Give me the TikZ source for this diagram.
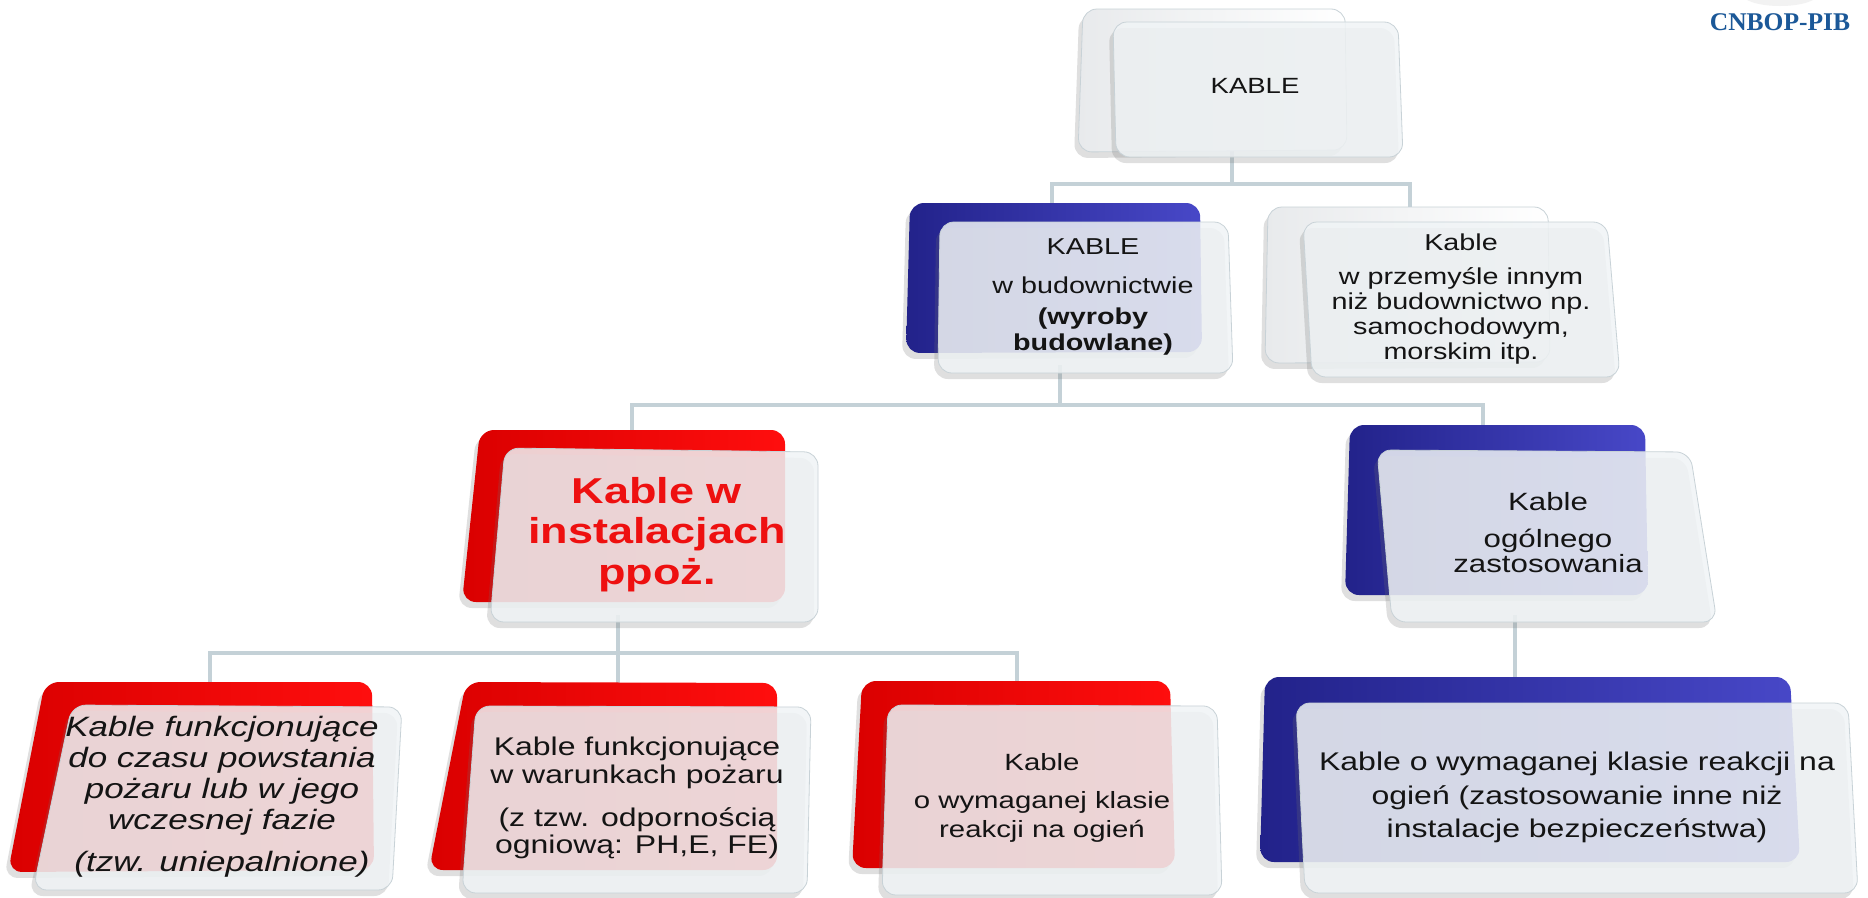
\documentclass[tikz,border=0pt]{standalone}
\usepackage{fontspec}
\setmainfont{Liberation Sans}[FakeStretch=1.25]
\newfontfamily\logofont{Liberation Serif}
\definecolor{lineC}{RGB}{196,209,215}
\definecolor{redL}{RGB}{255,14,14}
\definecolor{redD}{RGB}{218,0,0}
\definecolor{bluL}{RGB}{72,72,200}
\definecolor{bluD}{RGB}{34,34,138}
\definecolor{frontC}{RGB}{240,244,246}
\definecolor{frontE}{RGB}{200,210,215}
\definecolor{whiteD}{RGB}{232,234,236}
\definecolor{txtC}{RGB}{20,20,20}
\definecolor{redT}{RGB}{238,16,16}
\definecolor{logoC}{RGB}{27,88,152}
\definecolor{shadowC}{RGB}{110,110,110}
\newcommand\fs[2]{\fontsize{#1pt}{#2pt}\selectfont}
\newcommand\myquad[5]{\path[#1] (#2) -- (#3) -- (#4) -- (#5) -- cycle;}
\newcommand\myshadow[4]{\path[shadowshape] (#1) -- (#2) -- (#3) -- (#4) -- cycle;}
\tikzset{
 conn/.style={draw=lineC, line width=4pt},
 shp/.style={rounded corners=14pt},
 shadowshape/.style={shp, fill=shadowC, fill opacity=0.22, shift={(-4,6)}},
 redback/.style={shp, left color=redD, right color=redL},
 blueback/.style={shp, left color=bluD, right color=bluL},
 whiteback/.style={shp, left color=whiteD, right color=white, draw=frontE, line width=0.8pt},
 frontbox/.style={shp, fill=frontC, fill opacity=0.85, draw=frontE, draw opacity=1, line width=0.8pt},
 txt/.style={align=center, inner sep=0pt, text=txtC},
}
\begin{document}
\begin{tikzpicture}[x=1pt,y=-1pt]
\useasboundingbox (0,0) rectangle (1868,897);
\fill[white] (0,0) rectangle (1868,897);
% faint logo piece
\fill[gray!10] (1780,-6) ellipse (38 and 12);
\node[font=\logofont\bfseries\fs{25.5}{26}, text=logoC, inner sep=0pt] (logo) at (1780,22) {CNBOP-PIB};

% connector coordinates
\coordinate (Tb) at (1232,150);
\coordinate (bus1) at (1232,184);
\coordinate (Bt) at (1052,210);
\coordinate (Pt) at (1410,215);
\coordinate (Bb) at (1060,365);
\coordinate (bus2) at (0,405);
\coordinate (Rt) at (632,440);
\coordinate (Gt) at (1483,435);
\coordinate (Rb) at (618,615);
\coordinate (bus3) at (0,653);
\coordinate (L1t) at (210,690);
\coordinate (L2t) at (618,690);
\coordinate (L3t) at (1017,690);
\coordinate (Gb) at (1515,615);
\coordinate (L4t) at (1515,690);

\draw[conn] (Tb) -- (bus1);
\draw[conn] (Bt) |- (Pt |- bus1) -- (Pt);
\draw[conn] (Bb) -- (Bb |- bus2);
\draw[conn] (Rt) |- (Gt |- bus2) -- (Gt);
\draw[conn] (Rb) -- (L2t);
\draw[conn] (L1t) |- (L3t |- bus3) -- (L3t);
\draw[conn] (Gb) -- (L4t);

% ---- top KABLE
\myshadow{1083,9}{1345,9}{1347,150}{1078,152}
\myquad{whiteback}{1083,9}{1345,9}{1347,150}{1078,152}
\myshadow{1113,22}{1398,22}{1403,157}{1116,157}
\myquad{frontbox}{1113,22}{1398,22}{1403,157}{1116,157}
\node[txt, font=\fs{22}{22}] (T) at (1255,86) {KABLE};

% ---- budownictwie
\myshadow{910,203}{1200,203}{1202,352}{906,353}
\myquad{blueback}{910,203}{1200,203}{1202,352}{906,353}
\myshadow{940,222}{1228,222}{1233,373}{938,373}
\myquad{frontbox}{940,222}{1228,222}{1233,373}{938,373}
\node[txt, font=\fs{23}{26}, anchor=north] (B) at (1093,238)
 {KABLE\\[13pt] w budownictwie\\[5pt] \textbf{(wyroby}\\ \textbf{budowlane)}};

% ---- przemysle
\myshadow{1268,207}{1548,207}{1550,362}{1265,363}
\myquad{whiteback}{1268,207}{1548,207}{1550,362}{1265,363}
\myshadow{1303,222}{1607,222}{1620,377}{1312,377}
\myquad{frontbox}{1303,222}{1607,222}{1620,377}{1312,377}
\node[txt, font=\fs{23}{25}, anchor=north] (P) at (1461,234)
 {Kable\\[9pt] w przemyśle innym\\ niż budownictwo np.\\ samochodowym,\\ morskim itp.};

% ---- instalacje ppoz
\myshadow{480,430}{785,430}{785,602}{462,602}
\myquad{redback}{480,430}{785,430}{785,602}{462,602}
\myshadow{505,448}{818,452}{818,622}{490,622}
\myquad{frontbox}{505,448}{818,452}{818,622}{490,622}
\node[txt, text=redT, font=\bfseries\fs{36}{40.5}, anchor=north] (R) at (657,477)
 {Kable w\\ instalacjach\\ ppoż.};

% ---- ogolnego
\myshadow{1350,425}{1645,425}{1648,595}{1345,595}
\myquad{blueback}{1350,425}{1645,425}{1648,595}{1345,595}
\myshadow{1377,450}{1690,452}{1717,622}{1392,622}
\myquad{frontbox}{1377,450}{1690,452}{1717,622}{1392,622}
\node[txt, font=\fs{25}{25}, anchor=north] (G) at (1548,492)
 {Kable\\[12pt] ogólnego\\ zastosowania};

% ---- bottom 1
\myshadow{45,682}{372,682}{374,870}{8,872}
\myquad{redback}{45,682}{372,682}{374,870}{8,872}
\myshadow{72,705}{402,707}{392,890}{33,890}
\myquad{frontbox}{72,705}{402,707}{392,890}{33,890}
\node[txt, font=\itshape\fs{28}{31}, anchor=north] (L1) at (222,716)
 {Kable funkcjonujące\\ do czasu powstania\\ pożaru lub w jego\\ wczesnej fazie\\[10.5pt] (tzw. uniepalnione)};

% ---- bottom 2
\myshadow{466,682}{777,683}{777,870}{429,870}
\myquad{redback}{466,682}{777,683}{777,870}{429,870}
\myshadow{476,706}{811,707}{807,893}{462,893}
\myquad{frontbox}{476,706}{811,707}{807,893}{462,893}
\node[txt, font=\fs{25.6}{27.4}, anchor=north] (L2) at (637,737)
 {Kable funkcjonujące\\ w warunkach pożaru\\[15.5pt] (z tzw. odpornością\\ ogniową: PH,E, FE)};

% ---- bottom 3
\myshadow{862,681}{1170,681}{1175,868}{852,868}
\myquad{redback}{862,681}{1170,681}{1175,868}{852,868}
\myshadow{888,705}{1217,706}{1222,895}{882,895}
\myquad{frontbox}{888,705}{1217,706}{1222,895}{882,895}
\node[txt, font=\fs{23.5}{29.5}, anchor=north] (L3) at (1042,753)
 {Kable\\[8.5pt] o wymaganej klasie\\ reakcji na ogień};

% ---- bottom 4
\myshadow{1265,677}{1790,677}{1800,862}{1260,862}
\myquad{blueback}{1265,677}{1790,677}{1800,862}{1260,862}
\myshadow{1296,703}{1848,703}{1858,893}{1305,893}
\myquad{frontbox}{1296,703}{1848,703}{1858,893}{1305,893}
\node[txt, font=\fs{25.6}{33.5}, anchor=north] (L4) at (1577,752)
 {Kable o wymaganej klasie reakcji na\\ ogień (zastosowanie inne niż\\ instalacje bezpieczeństwa)};
\end{tikzpicture}
\end{document}
